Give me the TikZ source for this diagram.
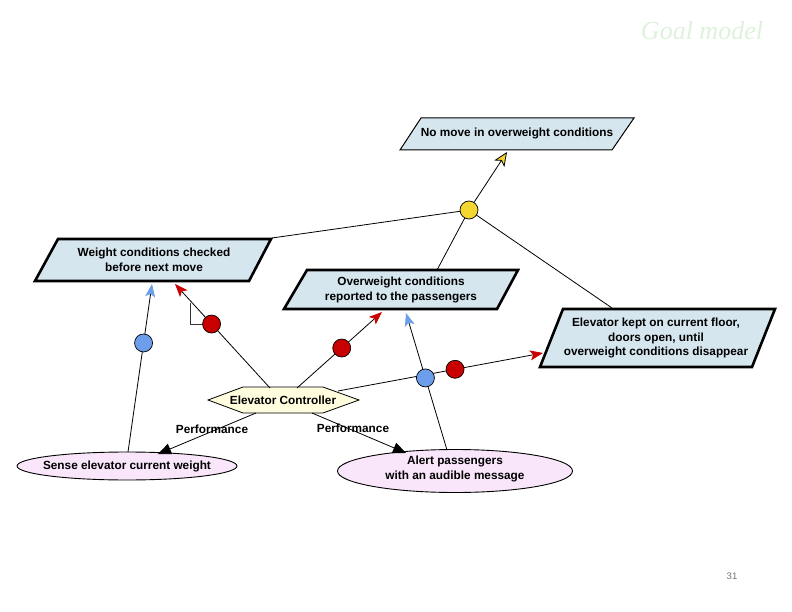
\documentclass[tikz,border=0pt]{standalone}
\usepackage{fontspec}
\setmainfont{Liberation Sans}
\newfontfamily\titlefont{Liberation Serif}
\usetikzlibrary{arrows.meta,calc,shapes.geometric}
\definecolor{goalfill}{HTML}{D6E6EE}
\definecolor{taskfill}{HTML}{FAE6FA}
\definecolor{agentfill}{HTML}{FFFDDE}
\definecolor{redc}{HTML}{C80000}
\definecolor{bluec}{HTML}{6D9EEB}
\definecolor{yellowc}{HTML}{F4D630}
\definecolor{titlec}{HTML}{DDF2DA}
\begin{document}
\begin{tikzpicture}[x=1pt,y=-1pt]
\tikzset{
  txt/.style={font=\fontsize{11.8}{14.5}\selectfont\bfseries, align=center, inner sep=0pt},
  goalthin/.style={draw=black, line width=1pt, fill=goalfill, line join=miter},
  goalthick/.style={draw=black, line width=2.6pt, fill=goalfill, line join=miter},
  taskshape/.style={draw=black, line width=0.9pt, fill=taskfill, ellipse, inner sep=0pt},
  agentshape/.style={draw=black, line width=0.8pt, fill=agentfill, line join=miter},
  conn/.style={draw=black, line width=0.8pt},
  dot/.style={circle, draw=black, line width=0.7pt, minimum size=18pt, inner sep=0pt},
  redarr/.style={conn, -{Stealth[length=13pt,width=10pt,inset=3pt,color=redc]}},
  bluearr/.style={conn, -{Stealth[length=13pt,width=10pt,inset=3pt,color=bluec]}},
  yellowarr/.style={conn, -{Stealth[length=14pt,width=12pt,inset=3.5pt,fill=yellowc]}},
  perf/.style={conn, -{Triangle[length=13pt,width=11pt]}},
}
\useasboundingbox (0,0) rectangle (792,612);

% title and page number
\node[font=\titlefont\itshape\fontsize{26}{30}\selectfont, text=titlec, anchor=base] (title) at (702,40) {Goal model};
\node[font=\fontsize{9.5}{11}\selectfont, text=black!55, anchor=base] (pnum) at (732,579) {31};

% goal shapes
\path[goalthin] (421,118) -- (634,118) -- (612,150) -- (400,150) -- cycle;
\node[txt] (g1) at (517,133) {No move in overweight conditions};
\path[goalthick] (58,239) -- (271,239) -- (249,281) -- (35,281) -- cycle;
\node[txt] (g2) at (154,260) {Weight conditions checked\\before next move};
\path[goalthick] (307,270) -- (518,270) -- (497,309) -- (284,309) -- cycle;
\node[txt] (g3) at (401,290) {Overweight conditions\\reported to the passengers};
\path[goalthick] (563,309) -- (775,309) -- (752,367) -- (540,367) -- cycle;
\node[txt] (g4) at (656,338) {Elevator kept on current floor,\\doors open, until\\overweight conditions disappear};

% agent
\path[agentshape] (208,400) -- (243,387) -- (323,387) -- (359,400) -- (323,413) -- (243,413) -- cycle;
\node[txt] (ec) at (283,400) {Elevator Controller};

% tasks
\node[taskshape, minimum width=220pt, minimum height=28pt] (s) at (127,466) {};
\node[txt] (st) at (127,466) {Sense elevator current weight};
\node[taskshape, minimum width=235pt, minimum height=43pt] (a) at (455,471) {};
\node[txt] (at) at (455,469) {Alert passengers\\with an audible message};

% named end points
\coordinate (g1b) at (507,152);
\coordinate (g2tr) at (272,238);
\coordinate (g3t) at (437,270);
\coordinate (g4t) at (612,308);
\coordinate (g2b1) at (152,284);
\coordinate (g2b2) at (175,284);
\coordinate (g3b1) at (382,312);
\coordinate (g3b2) at (406,313);
\coordinate (g4l) at (543,353);
\coordinate (ec1) at (270,388);
\coordinate (ec2) at (297,388);
\coordinate (ec3) at (338,391);
\coordinate (ec4) at (256,413);
\coordinate (ec5) at (312,413);
\coordinate (stop) at (128,452);
\coordinate (atop) at (447,450);
\coordinate (sarr) at (158,454);
\coordinate (aarr) at (406,453);
\coordinate (ycen) at (469,210);

% connectors
\draw[yellowarr] (ycen) -- (g1b);
\draw[conn] (ycen) -- (g2tr);
\draw[conn] (ycen) -- (g3t);
\draw[conn] (ycen) -- (g4t);
\draw[bluearr] (stop) -- (g2b1);
\draw[redarr] (ec1) -- (g2b2);
\draw[redarr] (ec2) -- (g3b1);
\draw[bluearr] (atop) -- (g3b2);
\draw[redarr] (ec3) -- (g4l);
\draw[perf] (ec4) -- (sarr);
\draw[perf] (ec5) -- (aarr);

% bracket mark
\coordinate (bk1) at (190,303);
\coordinate (bk2) at (190,324);
\coordinate (bk3) at (207,324);
\draw[line width=0.6pt, black!80] (bk1) -- (bk2) -- (bk3);

% contribution circles
\node[dot, fill=yellowc] (y) at (ycen) {};
\node[dot, fill=bluec] (b1) at ($(stop)!0.649!(g2b1)$) {};
\node[dot, fill=redc] (r1) at ($(ec1)!0.615!(g2b2)$) {};
\node[dot, fill=redc] (r2) at ($(ec2)!0.526!(g3b1)$) {};
\node[dot, fill=bluec] (b2) at ($(atop)!0.526!(g3b2)$) {};
\node[dot, fill=redc] (r3) at ($(ec3)!0.571!(g4l)$) {};

% performance labels
\node[txt] (p1) at (212,429) {Performance};
\node[txt] (p2) at (353,428) {Performance};
\end{tikzpicture}
\end{document}
